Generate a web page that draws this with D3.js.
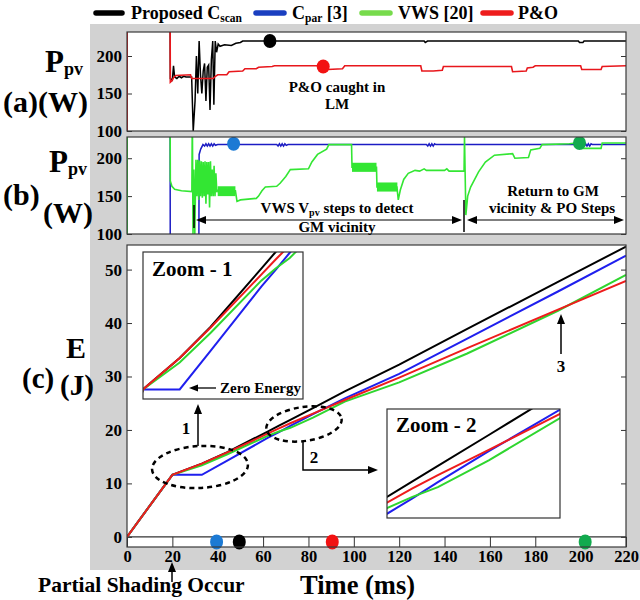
<!DOCTYPE html>
<html><head><meta charset="utf-8">
<script src="https://d3js.org/d3.v7.min.js"></script>
<style>
body{margin:0;background:#fff;}
text{font-family:"Liberation Serif","Times New Roman","DejaVu Serif",serif;font-weight:bold;fill:#000;}
</style></head>
<body><svg id="chart" width="640" height="600"></svg>
<script>
// ---------------- data ----------------
const timeTicks = [0,20,40,60,80,100,120,140,160,180,200,220];
const powerTicks = [100,150,200];
const energyTicks = [0,10,20,30,40,50];

// Panel (a): Ppv (W) vs time (ms)
const proposedPower = [[0,0],[0.1,260],[19,260],[19.1,170],[20,168],[20.5,187],[21,172],[22,170],[23,173],[24,171],[25,173],[26,172],[28.5,172],
 [29.2,100],[30,140],[30.6,200],[31.2,150],[31.8,220],[32.4,175],[33,150],[33.6,180],[34.2,190],[34.8,140],[35.4,185],[36,188],[36.6,128],
 [37.2,195],[37.8,220],[38.3,135],[38.9,220],[39.5,205],[40.2,216],[41,213],[43,215],[46,214],[48,217],[50,218],[51,220],
 [131,220],[131.5,218],[132.5,220],[199,220],[199.5,218],[201,218],[201.5,220],[220,220]];
const pandoPower = [[0,0],[0.1,260],[19,260],[19.1,165],[19.8,167],[20.5,171],[21.5,174],[28,175],[28.5,170],[38,170],[39,173],[40,175],
 [44,175],[45,179],[51,180],[52,183],[57,183],[58,185],[64,186],[65,187],[86,187],[87.5,181],[88.5,182],[95,183],[96,187],
 [129.5,187],[130,180],[135,180],[139,181],[139.5,186],[169.5,186],[170,179],[176,180],[176.5,184],[179,185],[180,187],
 [200,187],[200.5,182],[209,182],[209.5,186],[220,187]];

// Panel (b)
const cparPower = [[0,0],[0.1,260],[19,260],[19.1,0],[31.6,0],[31.8,205],[32.5,212],[33.5,218],[34.2,216],[34.8,219],[35.4,216],[36,219],
 [36.6,216],[37.2,219],[37.8,216],[38.4,219],[39,217],[40,218],[66,218],[66.6,216],[67.2,219],[67.8,216],[68.4,219],[69,216],[69.6,219],
 [70.2,217],[71,218],[132,218],[132.6,216],[133.2,219],[133.8,216],[134.4,219],[135,216],[135.6,219],[136.2,218],[201,218],[201.6,216],
 [202.2,219],[202.8,216],[203.4,219],[204,216],[204.6,219],[205.2,218],[220,218]];
const vwsPower = [[0,0],[0.1,260],[19,260],[19.1,170],[19.8,163],[21,159],[24,157],[28.6,156],[28.8,260],[29.1,100],[29.5,185],[29.9,100],
 [30.4,198],[30.8,150],[31.2,198],[31.6,145],[32,197],[32.4,150],[32.8,196],[33.2,148],[33.6,195],[34,150],[34.4,196],[34.8,140],
 [35.2,195],[35.6,152],[36,195],[36.4,135],[36.8,196],[37.2,150],[37.6,185],[38,150],[38.4,190],[38.8,150],[39.2,180],[39.6,155],
 [40,158],[47.8,157],[48.5,143],[50,145],[57,147],[58,150],[59.5,157],[61,162],[66,163],[67.5,167],[70,176],[72,185],[80,186],
 [81.5,195],[84,205],[88,212],[89,218],[99,218],[99.2,188],[110,188],[110.2,162],[119,162],[119.6,145],[120.5,158],[122,172],
 [124,180],[127,184],[129,183],[131,186],[132,184],[140,184],[141,186],[142,183],[148.6,183],[148.8,228],[149.4,125],[150.2,150],
 [151.5,162],[155,182],[158,195],[162,204],[170,206],[171,200],[177,201],[178,211],[182,213],[183,218],[195,219],[198,220],
 [200,220],[200.5,213],[209,213],[209.5,220],[220,220]];
// dense oscillation regions of VWS: [tStart, tEnd, low, high]
const vwsBands = [[40,47.8,150,163],[99.2,110,182,194],[110.2,119.2,156,168]];

// Panel (c): energy (J)
const energyTime     = [0, 20, 33, 44, 62, 67, 72, 82, 96, 120, 150, 190, 220];
const energyProposed = [0, 11.6, 13.7, 15.8, 19.7, 20.8, 21.9, 24.1, 27.2, 32.2, 38.9, 47.7, 54.3];
const energyCpar     = [0, 11.6, 11.6, 14.2, 18.5, 19.6, 20.75, 22.95, 25.9, 30.5, 37.1, 45.9, 52.6];
const energyVws      = [0, 11.6, 13.4, 15.4, 18.9, 19.7, 20.4, 22.3, 25.3, 28.9, 34.3, 42.3, 49.0];
const energyPando    = [0, 11.6, 13.7, 15.75, 19.3, 20.3, 21.25, 23.05, 25.6, 29.8, 35.3, 42.5, 47.9];

const markersA = [{t:63,p:220,k:"proposed"},{t:86.5,p:186,k:"pando"}];
const markersB = [{t:47,p:219,k:"cpar"},{t:199.5,p:220,k:"vws"}];
const settleTimes = [{t:39.5,k:"cpar"},{t:49.5,k:"proposed"},{t:90.5,k:"pando"},{t:202,k:"vws"}];

// ---------------- styles ----------------
const lineColor = {proposed:"#000000", cpar:"#1c1cc4", vws:"#33e633", pando:"#e8171c"};
const energyColor = {proposed:"#000000", cpar:"#1f1fee", vws:"#2fd62f", pando:"#ee1c1c"};
const dotColor = {proposed:"#000000", cpar:"#1c7ad4", vws:"#12aa4e", pando:"#f21212"};
const FONT = '"Liberation Serif","Times New Roman","DejaVu Serif",serif';

const svg = d3.select("#chart");
svg.append("rect").attr("x",90).attr("y",24).attr("width",550).attr("height",546).attr("fill","#d2d2d2");

const x = d3.scaleLinear().domain([0,220]).range([127,626]);
const yA = d3.scaleLinear().domain([100,232]).range([131,32]);
const yB = d3.scaleLinear().domain([100,228]).range([234,137]);
const yC = d3.scaleLinear().domain([-1.9,54.6]).range([547,245]);

function plotArea(id, y){
  const [b,t] = y.range(), [l,r] = x.range();
  svg.append("clipPath").attr("id",id).append("rect").attr("x",l).attr("y",t).attr("width",r-l).attr("height",b-t);
  svg.append("rect").attr("x",l).attr("y",t).attr("width",r-l).attr("height",b-t).attr("fill","#fff");
}
function border(y){
  const [b,t] = y.range(), [l,r] = x.range();
  svg.append("rect").attr("x",l).attr("y",t).attr("width",r-l).attr("height",b-t)
    .attr("fill","none").attr("stroke","#3a3a3a").attr("stroke-width",1.2);
}
function yAxes(y, ticks){
  const gl = svg.append("g").attr("transform",`translate(${x.range()[0]},0)`)
    .call(d3.axisLeft(y).tickValues(ticks).tickSize(-5).tickPadding(5));
  gl.attr("font-family",FONT).attr("font-size",17).attr("font-weight","bold");
  gl.select(".domain").remove();
  gl.selectAll("line").attr("stroke","#333");
  const gr = svg.append("g").attr("transform",`translate(${x.range()[1]},0)`)
    .call(d3.axisRight(y).tickValues(ticks).tickSize(-5).tickFormat(""));
  gr.select(".domain").remove();
  gr.selectAll("line").attr("stroke","#333");
}
function head(g, px, py, dir, len=10, w=4){
  let pts;
  if(dir==="up") pts=[[px,py],[px-w,py+len],[px+w,py+len]];
  if(dir==="down") pts=[[px,py],[px-w,py-len],[px+w,py-len]];
  if(dir==="left") pts=[[px,py],[px+len,py-w],[px+len,py+w]];
  if(dir==="right") pts=[[px,py],[px-len,py-w],[px-len,py+w]];
  g.append("path").attr("d","M"+pts.map(p=>p.join(",")).join("L")+"Z").attr("fill","#000");
}
const ann = svg.append("g");

// ---------- Panel (a) ----------
plotArea("clipA", yA);
yAxes(yA, powerTicks);
const gA = svg.append("g").attr("clip-path","url(#clipA)");
const lineA = d3.line().x(d=>x(d[0])).y(d=>yA(d[1]));
gA.append("path").datum(proposedPower).attr("d",lineA).attr("fill","none").attr("stroke",lineColor.proposed).attr("stroke-width",1.5);
gA.append("path").datum(pandoPower).attr("d",lineA).attr("fill","none").attr("stroke",lineColor.pando).attr("stroke-width",1.6);
gA.selectAll("ellipse").data(markersA).join("ellipse").attr("cx",d=>x(d.t)).attr("cy",d=>yA(d.p))
  .attr("rx",6.5).attr("ry",7).attr("fill",d=>dotColor[d.k]);
border(yA);
svg.append("text").attr("x",337).attr("y",92).attr("text-anchor","middle").attr("font-size",15).text("P&O caught in");
svg.append("text").attr("x",337).attr("y",109).attr("text-anchor","middle").attr("font-size",15).text("LM");

// ---------- Panel (b) ----------
plotArea("clipB", yB);
yAxes(yB, powerTicks);
const gB = svg.append("g").attr("clip-path","url(#clipB)");
const lineB = d3.line().x(d=>x(d[0])).y(d=>yB(d[1]));
gB.append("path").datum(cparPower).attr("d",lineB).attr("fill","none").attr("stroke",lineColor.cpar).attr("stroke-width",1.5);
gB.selectAll("rect.band").data(vwsBands).join("rect").attr("class","band")
  .attr("x",d=>x(d[0])).attr("width",d=>x(d[1])-x(d[0])).attr("y",d=>yB(d[3])).attr("height",d=>yB(d[2])-yB(d[3]))
  .attr("fill",lineColor.vws);
gB.append("path").datum(vwsPower).attr("d",lineB).attr("fill","none").attr("stroke",lineColor.vws).attr("stroke-width",1.6);
gB.selectAll("ellipse").data(markersB).join("ellipse").attr("cx",d=>x(d.t)).attr("cy",d=>yB(d.p))
  .attr("rx",6.5).attr("ry",7).attr("fill",d=>dotColor[d.k]);
border(yB);
// annotations in (b)
ann.append("line").attr("x1",194).attr("x2",194).attr("y1",205).attr("y2",228).attr("stroke","#000").attr("stroke-width",1.5);
ann.append("line").attr("x1",464).attr("x2",464).attr("y1",200).attr("y2",232).attr("stroke","#000").attr("stroke-width",1.5);
ann.append("line").attr("x1",200).attr("x2",458).attr("y1",220).attr("y2",220).attr("stroke","#000").attr("stroke-width",1.2);
head(ann,196,220,"left"); head(ann,462,220,"right");
ann.append("line").attr("x1",470).attr("x2",620).attr("y1",220).attr("y2",220).attr("stroke","#000").attr("stroke-width",1.2);
head(ann,467,220,"left"); head(ann,624,220,"right");
const t1 = svg.append("text").attr("x",337).attr("y",213).attr("text-anchor","middle").attr("font-size",15);
t1.append("tspan").text("VWS V");
t1.append("tspan").attr("font-size",10).attr("dy",3).text("pv");
t1.append("tspan").attr("dy",-3).text(" steps to detect");
svg.append("text").attr("x",337).attr("y",232).attr("text-anchor","middle").attr("font-size",15).text("GM vicinity");
svg.append("text").attr("x",553).attr("y",196).attr("text-anchor","middle").attr("font-size",15).text("Return to GM");
svg.append("text").attr("x",552).attr("y",213).attr("text-anchor","middle").attr("font-size",15).text("vicinity & PO Steps");

// ---------- Panel (c) ----------
plotArea("clipC", yC);
yAxes(yC, energyTicks);
const gx = svg.append("g").attr("transform","translate(0,547)")
  .call(d3.axisBottom(x).tickValues(timeTicks).tickSize(-(547-yC(0))).tickPadding(3));
gx.attr("font-family",FONT).attr("font-size",16.5).attr("font-weight","bold");
gx.select(".domain").remove();
gx.selectAll("line").attr("stroke","#333");
svg.append("line").attr("x1",x(0)).attr("x2",x(220)).attr("y1",yC(0)).attr("y2",yC(0)).attr("stroke","#333").attr("stroke-width",1.2);

const series = [["proposed",energyProposed],["cpar",energyCpar],["vws",energyVws],["pando",energyPando]];
function drawEnergy(g, xs, ys, w){
  const ln = d3.line().x((d,i)=>xs(energyTime[i])).y(d=>ys(d));
  series.forEach(([k,v])=>{
    g.append("path").datum(v).attr("d",ln).attr("fill","none").attr("stroke",energyColor[k]).attr("stroke-width",w);
  });
}
const gC = svg.append("g").attr("clip-path","url(#clipC)");
drawEnergy(gC, x, yC, 2);
const dotY = (547+yC(0))/2;
svg.selectAll("ellipse.settle").data(settleTimes).join("ellipse").attr("class","settle")
  .attr("cx",d=>x(d.t)).attr("cy",dotY).attr("rx",6.5).attr("ry",7.5).attr("fill",d=>dotColor[d.k]);
border(yC);

// insets
function inset(id, box, xd, yd, label, lx, ly){
  svg.append("clipPath").attr("id",id).append("rect").attr("x",box.x).attr("y",box.y).attr("width",box.w).attr("height",box.h);
  svg.append("rect").attr("x",box.x).attr("y",box.y).attr("width",box.w).attr("height",box.h).attr("fill","#fff");
  const xs = d3.scaleLinear().domain(xd).range([box.x, box.x+box.w]);
  const ys = d3.scaleLinear().domain(yd).range([box.y+box.h, box.y]);
  const g = svg.append("g").attr("clip-path",`url(#${id})`);
  drawEnergy(g, xs, ys, 2);
  svg.append("rect").attr("x",box.x).attr("y",box.y).attr("width",box.w).attr("height",box.h)
    .attr("fill","none").attr("stroke","#333").attr("stroke-width",1.2);
  svg.append("text").attr("x",lx).attr("y",ly).attr("font-size",21).text(label);
}
inset("clipI1",{x:143,y:252,w:160,h:147},[20,76.7],[10.96,20.8],"Zoom - 1",152,276);
inset("clipI2",{x:387,y:409,w:173,h:109},[62,96],[18.2,25.95],"Zoom - 2",396,432);

// Zero energy
ann.raise();
ann.append("line").attr("x1",194).attr("x2",216).attr("y1",388).attr("y2",388).attr("stroke","#000").attr("stroke-width",1.3);
head(ann,189,388,"left",9,3.5);
svg.append("text").attr("x",220).attr("y",393).attr("font-size",15).text("Zero Energy");

// ellipses
const gE = svg.append("g");
gE.append("ellipse").attr("cx",0).attr("cy",0).attr("rx",48).attr("ry",21)
  .attr("transform","translate(200,467) rotate(-3)").attr("fill","none").attr("stroke","#000").attr("stroke-width",2.5).attr("stroke-dasharray","5,4");
gE.append("ellipse").attr("cx",0).attr("cy",0).attr("rx",38).attr("ry",17)
  .attr("transform","translate(304,424) rotate(-8)").attr("fill","none").attr("stroke","#000").attr("stroke-width",2.5).attr("stroke-dasharray","5,4");
// arrows 1,2,3
const gArr = svg.append("g");
gArr.append("line").attr("x1",198).attr("x2",198).attr("y1",446).attr("y2",412).attr("stroke","#000").attr("stroke-width",1.5);
head(gArr,198,404,"up");
svg.append("text").attr("x",186).attr("y",434).attr("text-anchor","middle").attr("font-size",17).text("1");
gArr.append("path").attr("d","M303,442L303,470L370,470").attr("fill","none").attr("stroke","#000").attr("stroke-width",1.5);
head(gArr,378,470,"right");
svg.append("text").attr("x",314).attr("y",463).attr("text-anchor","middle").attr("font-size",17).text("2");
gArr.append("line").attr("x1",561).attr("x2",561).attr("y1",354).attr("y2",322).attr("stroke","#000").attr("stroke-width",1.5);
head(gArr,561,314,"up");
svg.append("text").attr("x",561).attr("y",372).attr("text-anchor","middle").attr("font-size",17).text("3");

// ---------- labels ----------
function ppv(xp, yb){
  const t = svg.append("text").attr("x",xp).attr("y",yb).attr("font-size",31);
  t.append("tspan").text("P");
  t.append("tspan").attr("font-size",18).attr("dy",3).text("pv");
}
ppv(45,72);
svg.append("text").attr("x",3).attr("y",112).attr("font-size",30).text("(a)(W)");
ppv(49,172);
svg.append("text").attr("x",3).attr("y",205).attr("font-size",30).text("(b)");
svg.append("text").attr("x",43).attr("y",223).attr("font-size",30).text("(W)");
svg.append("text").attr("x",66).attr("y",358).attr("font-size",30).text("E");
svg.append("text").attr("x",22).attr("y",388).attr("font-size",29).text("(c)");
svg.append("text").attr("x",60).attr("y",395).attr("font-size",29).text("(J)");

svg.append("text").attr("x",300).attr("y",593.5).attr("font-size",26.5).text("Time (ms)");
svg.append("text").attr("x",38).attr("y",592).attr("font-size",21.5).text("Partial Shading Occur");
svg.append("line").attr("x1",172).attr("x2",172).attr("y1",582).attr("y2",570).attr("stroke","#000").attr("stroke-width",1.5);
head(svg,172,562,"up",10,4);

// ---------- legend ----------
const lg = svg.append("g");
const legendItems = [
  {k:"proposed", x1:96, x2:122, tx:131, main:"Proposed C", sub:"scan", tail:""},
  {k:"cpar", x1:256, x2:284, tx:292, main:"C", sub:"par", tail:" [3]"},
  {k:"vws", x1:362, x2:390, tx:398, main:"VWS [20]", sub:"", tail:""},
  {k:"pando", x1:483, x2:511, tx:518, main:"P&O", sub:"", tail:""}
];
const legendSwatch = {proposed:"#000", cpar:"#1a3fc0", vws:"#77db4c", pando:"#ee1c1c"};
legendItems.forEach(d=>{
  lg.append("line").attr("x1",d.x1).attr("x2",d.x2).attr("y1",13).attr("y2",13)
    .attr("stroke",legendSwatch[d.k]).attr("stroke-width",5.5).attr("stroke-linecap","round");
  const t = lg.append("text").attr("x",d.tx).attr("y",19).attr("font-size",18);
  t.append("tspan").text(d.main);
  if(d.sub){
    t.append("tspan").attr("font-size",11.5).attr("dy",3).text(d.sub);
    if(d.tail) t.append("tspan").attr("dy",-3).text(d.tail);
  }
});
</script></body></html>
